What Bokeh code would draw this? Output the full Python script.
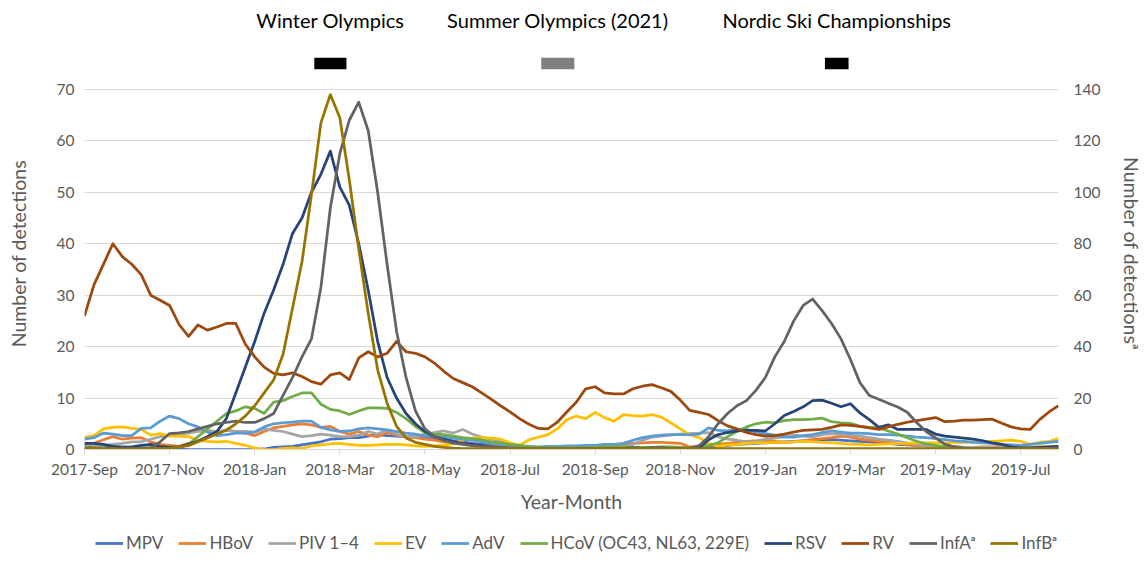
from bokeh.plotting import figure
from bokeh.models import Range1d, LinearAxis, FixedTicker, Legend, LegendItem, ColumnDataSource
from bokeh.layouts import column
from bokeh.core.properties import value
from bokeh.embed import file_html
from bokeh.resources import INLINE

# ---------------- data ----------------
tick_idx = [0, 9, 18, 27, 36, 45, 54, 63, 72, 81, 90, 99]
tick_labels = ["2017-Sep", "2017-Nov", "2018-Jan", "2018-Mar", "2018-May", "2018-Jul",
               "2018-Sep", "2018-Nov", "2019-Jan", "2019-Mar", "2019-May", "2019-Jul"]

event_names = ["Winter Olympics", "Summer Olympics (2021)", "Nordic Ski Championships"]
event_start = [24.3, 48.3, 78.3]   # week index
event_end = [27.7, 51.8, 80.8]
event_colors = ["#000000", "#808080", "#000000"]

MPV = [0.8, 0.7, 0.6, 0.5, 0.5, 0.4, 0.3, 0.3, 0.2, 0.1,
       0.1, 0.0, 0.0, 0.0, 0.0, 0.0, 0.0, 0.0, 0.0, 0.1,
       0.4, 0.5, 0.6, 0.9, 1.2, 1.5, 2.0, 2.1, 2.3, 2.3,
       2.6, 2.9, 2.7, 2.6, 2.5, 2.4, 2.3, 2.1, 2.0, 1.7,
       1.5, 1.2, 1.0, 0.8, 0.6, 0.5, 0.4, 0.3, 0.3, 0.2,
       0.2, 0.2, 0.2, 0.2, 0.2, 0.2, 0.2, 0.2, 0.2, 0.2,
       0.2, 0.2, 0.2, 0.3, 0.3, 0.4, 0.5, 0.6, 0.8, 1.0,
       1.1, 1.2, 1.3, 1.4, 1.5, 1.6, 1.7, 1.8, 1.8, 1.9,
       1.8, 1.7, 1.6, 1.5, 1.3, 1.2, 1.0, 0.9, 0.8, 0.7,
       0.6, 0.5, 0.5, 0.4, 0.4, 0.3, 0.3, 0.3, 0.2, 0.2,
       0.2, 0.2, 0.2, 0.2]
HBoV = [1.0, 1.2, 1.9, 2.5, 2.0, 2.2, 2.3, 1.5, 1.0, 0.8,
        0.6, 1.2, 1.6, 2.5, 3.2, 3.8, 3.5, 3.2, 2.7, 3.5,
        4.2, 4.5, 4.8, 5.0, 4.8, 4.3, 4.5, 3.5, 3.0, 3.5,
        2.8, 2.5, 3.3, 2.8, 2.5, 2.3, 2.0, 1.8, 1.5, 1.3,
        1.2, 1.0, 0.8, 0.6, 0.5, 0.4, 0.3, 0.3, 0.3, 0.3,
        0.4, 0.5, 0.5, 0.6, 0.7, 0.8, 0.9, 1.0, 1.2, 1.3,
        1.4, 1.4, 1.3, 1.2, 0.5, 0.6, 0.8, 1.0, 1.2, 1.4,
        1.6, 1.7, 1.8, 1.6, 1.4, 1.5, 1.7, 1.9, 2.1, 2.3,
        2.6, 2.4, 2.0, 1.8, 1.6, 1.4, 1.2, 1.0, 0.8, 0.7,
        0.6, 0.5, 0.5, 0.4, 0.4, 0.5, 0.5, 0.6, 0.5, 0.4,
        0.4, 0.5, 0.5, 0.6]
PIV = [1.0, 0.8, 0.8, 1.0, 1.2, 1.5, 1.5, 2.0, 2.5, 2.8,
       3.0, 3.2, 3.5, 3.7, 3.5, 3.7, 3.5, 3.5, 3.4, 4.0,
       3.7, 3.5, 3.0, 2.5, 2.7, 3.0, 2.8, 2.5, 2.5, 2.8,
       3.5, 3.0, 3.8, 3.0, 2.6, 2.5, 3.0, 3.3, 3.6, 3.2,
       3.9, 3.0, 2.4, 2.0, 1.6, 1.0, 0.5, 0.4, 0.3, 0.3,
       0.3, 0.3, 0.3, 0.4, 0.4, 0.4, 0.5, 0.5, 1.0, 1.8,
       2.4, 2.6, 2.8, 3.0, 3.1, 3.2, 3.3, 2.5, 2.0, 1.8,
       1.5, 1.6, 2.0, 2.2, 2.5, 2.8, 2.6, 2.4, 2.9, 3.1,
       3.0, 2.8, 2.6, 2.3, 2.0, 1.8, 1.6, 1.3, 1.0, 0.8,
       0.6, 0.5, 0.4, 0.4, 0.4, 0.4, 0.4, 0.4, 0.4, 0.4,
       0.4, 0.4, 0.4, 0.4]
EV = [2.3, 2.7, 4.0, 4.3, 4.4, 4.1, 3.9, 2.8, 3.1, 2.6,
      2.6, 2.5, 1.8, 1.6, 1.5, 1.6, 1.2, 0.8, 0.3, 0.0,
      0.0, 0.2, 0.3, 0.2, 0.7, 0.9, 1.1, 1.2, 1.0, 0.8,
      0.8, 0.9, 1.0, 1.0, 0.9, 0.7, 0.6, 0.7, 0.8, 1.2,
      1.8, 2.2, 2.3, 2.2, 2.0, 1.3, 0.8, 1.9, 2.4, 2.9,
      4.0, 5.8, 6.5, 6.0, 7.2, 6.2, 5.5, 6.8, 6.6, 6.5,
      6.8, 6.3, 5.2, 4.0, 2.9, 2.3, 1.2, 0.6, 0.9, 1.0,
      1.2, 1.3, 1.3, 1.4, 1.4, 1.5, 1.6, 1.5, 1.4, 1.3,
      1.2, 1.0, 1.0, 0.9, 1.0, 1.1, 1.2, 1.2, 1.3, 1.3,
      1.3, 1.3, 1.4, 1.4, 1.5, 1.5, 1.6, 1.7, 1.8, 1.6,
      1.0, 1.4, 1.6, 2.1]
AdV = [2.0, 2.3, 3.2, 3.0, 2.7, 2.7, 4.1, 4.2, 5.5, 6.5,
       6.0, 5.0, 4.4, 3.4, 2.7, 2.9, 3.2, 3.2, 3.4, 4.4,
       5.0, 5.2, 5.3, 5.5, 5.5, 4.3, 3.8, 3.5, 3.6, 4.0,
       4.2, 4.0, 3.8, 3.5, 3.2, 3.0, 2.6, 2.6, 2.4, 2.2,
       2.0, 1.8, 1.5, 1.2, 1.0, 0.8, 0.7, 0.6, 0.5, 0.6,
       0.6, 0.7, 0.7, 0.8, 0.8, 1.0, 1.0, 1.2, 1.8, 2.3,
       2.6, 2.8, 2.9, 2.9, 2.9, 3.0, 4.2, 3.7, 3.6, 3.9,
       3.9, 3.4, 3.1, 2.8, 2.4, 2.4, 2.7, 2.9, 3.3, 3.6,
       3.4, 3.2, 3.2, 3.1, 2.9, 2.9, 2.8, 2.6, 2.4, 2.3,
       2.1, 1.9, 1.7, 1.6, 1.4, 1.3, 1.2, 1.0, 0.9, 0.8,
       1.0, 1.2, 1.4, 1.6]
HCoV = [0.3, 0.3, 0.2, 0.2, 0.2, 0.2, 0.2, 0.3, 0.3, 0.5,
        0.5, 1.0, 2.5, 4.0, 5.5, 7.0, 7.5, 8.3, 8.0, 7.0,
        9.2, 9.5, 10.3, 11.0, 11.0, 8.8, 7.8, 7.5, 6.8, 7.5,
        8.1, 8.1, 8.0, 7.2, 6.0, 4.5, 3.3, 3.0, 2.9, 2.6,
        2.3, 2.1, 1.9, 1.5, 1.3, 1.0, 0.8, 0.5, 0.4, 0.3,
        0.3, 0.3, 0.3, 0.3, 0.4, 0.5, 0.5, 0.5, 0.4, 0.4,
        0.4, 0.5, 0.5, 0.4, 0.3, 0.5, 0.8, 1.3, 2.5, 3.5,
        4.4, 5.0, 5.3, 5.2, 5.6, 5.8, 5.8, 5.9, 6.1, 5.4,
        5.2, 5.1, 4.5, 4.3, 4.2, 3.6, 3.0, 2.3, 1.6, 1.1,
        0.8, 0.5, 0.3, 0.2, 0.2, 0.2, 0.2, 0.2, 0.2, 0.2,
        0.2, 0.2, 0.2, 0.2]
RSV = [1.2, 1.2, 1.0, 0.6, 0.4, 0.5, 0.8, 1.0, 0.6, 0.4,
       0.5, 1.0, 1.6, 2.5, 3.5, 6.0, 11.0, 16.0, 21.0, 26.5,
       31.0, 36.0, 42.0, 45.0, 50.0, 53.5, 58.0, 51.0, 47.5, 40.0,
       31.0, 21.0, 14.0, 10.0, 7.0, 5.0, 3.5, 2.5, 2.0, 1.5,
       1.2, 1.0, 0.8, 0.5, 0.3, 0.2, 0.2, 0.1, 0.1, 0.1,
       0.1, 0.1, 0.2, 0.2, 0.1, 0.1, 0.2, 0.2, 0.3, 0.2,
       0.3, 0.3, 0.2, 0.2, 0.1, 0.3, 1.9, 2.9, 3.3, 3.6,
       3.7, 3.7, 3.6, 5.0, 6.6, 7.4, 8.3, 9.5, 9.6, 9.0,
       8.3, 8.9, 7.1, 5.8, 4.3, 4.8, 3.9, 3.9, 3.9, 3.9,
       3.0, 2.6, 2.4, 2.2, 2.0, 1.7, 1.3, 1.0, 0.5, 0.3,
       0.3, 0.4, 0.5, 0.6]
RV = [26.0, 32.0, 36.0, 40.0, 37.5, 36.0, 34.0, 30.0, 29.0, 28.0,
      24.3, 22.0, 24.2, 23.2, 23.8, 24.5, 24.5, 20.5, 18.0, 16.0,
      14.8, 14.5, 14.9, 14.2, 13.2, 12.7, 14.5, 14.9, 13.6, 17.8,
      19.0, 18.0, 18.7, 21.0, 19.0, 18.7, 18.0, 16.8, 15.2, 13.8,
      13.0, 12.2, 11.0, 9.8, 8.5, 7.3, 6.0, 4.9, 4.1, 4.0,
      5.3, 7.3, 9.2, 11.8, 12.2, 11.0, 10.8, 10.8, 11.8, 12.3,
      12.6, 12.0, 11.3, 9.6, 7.6, 7.2, 6.8, 5.6, 4.6, 4.0,
      3.3, 2.9, 2.6, 2.7, 3.0, 3.4, 3.7, 3.8, 3.9, 4.3,
      4.8, 4.7, 4.5, 4.2, 3.9, 4.4, 4.9, 5.3, 5.6, 5.9,
      6.2, 5.4, 5.5, 5.7, 5.7, 5.8, 5.9, 5.1, 4.4, 4.0,
      3.9, 5.8, 7.3, 8.5]
InfA = [0.2, 0.2, 0.2, 0.2, 0.2, 0.3, 0.3, 0.5, 3.0, 6.2,
        6.5, 7.0, 8.0, 9.0, 10.0, 10.5, 11.0, 10.5, 10.5, 12.0,
        14.0, 21.0, 28.0, 36.0, 43.0, 63.0, 94.0, 115.0, 128.0, 135.0,
        124.0, 100.0, 72.0, 46.0, 28.0, 15.0, 8.0, 5.0, 3.5, 2.5,
        2.0, 1.5, 1.2, 1.0, 0.8, 0.6, 0.5, 0.4, 0.4, 0.3,
        0.3, 0.3, 0.3, 0.3, 0.3, 0.3, 0.3, 0.3, 0.3, 0.3,
        0.3, 0.3, 0.3, 0.3, 0.5, 1.5, 5.0, 10.0, 14.0, 17.0,
        19.0, 23.0, 28.0, 36.0, 42.0, 50.0, 56.0, 58.5, 54.0, 49.0,
        43.0, 35.0, 26.0, 21.0, 19.5, 18.0, 16.5, 14.5, 10.5, 7.0,
        4.5, 2.0, 1.0, 0.5, 0.3, 0.3, 0.3, 0.3, 0.3, 0.3,
        0.3, 0.3, 0.3, 0.3]
InfB = [0.5, 0.5, 0.3, 0.3, 0.2, 0.2, 0.2, 0.3, 0.3, 0.5,
        1.0, 1.5, 3.0, 4.5, 6.0, 7.5, 10.0, 13.0, 17.0, 22.0,
        27.0, 37.0, 55.0, 73.0, 99.0, 127.0, 138.0, 129.0, 105.0, 78.0,
        53.0, 31.0, 18.0, 9.0, 4.5, 2.8, 2.0, 1.2, 0.8, 0.5,
        0.3, 0.3, 0.3, 0.3, 0.3, 0.3, 0.3, 0.3, 0.3, 0.3,
        0.3, 0.3, 0.3, 0.3, 0.3, 0.3, 0.3, 0.3, 0.3, 0.3,
        0.3, 0.3, 0.3, 0.3, 0.3, 0.3, 0.3, 0.3, 0.3, 0.3,
        0.3, 0.3, 0.3, 0.3, 0.3, 0.3, 0.3, 0.3, 0.3, 0.3,
        0.3, 0.3, 0.3, 0.3, 0.3, 0.3, 0.3, 0.3, 0.3, 0.3,
        0.3, 0.3, 0.3, 0.3, 0.3, 0.3, 0.3, 0.3, 0.3, 0.3,
        0.3, 0.3, 0.3, 0.3]

left_series = [("MPV", MPV, "#4472C4"), ("HBoV", HBoV, "#ED7D31"), ("PIV 1–4", PIV, "#A5A5A5"),
               ("EV", EV, "#FFC000"), ("AdV", AdV, "#5B9BD5"),
               ("HCoV (OC43, NL63, 229E)", HCoV, "#70AD47"), ("RSV", RSV, "#264478"),
               ("RV", RV, "#9E480E")]
right_series = [("InfAᵃ", InfA, "#636363"), ("InfBᵃ", InfB, "#997300")]

# ---------------- layout ----------------
FONT = "Lato"
TXT = "#595959"
W = 1146
LB, RB = 84, 88
LW = 2.75
n = len(RV)
xr = Range1d(0, n - 1)
YMAX = 76.2

# --- event labels strip ---
top = figure(width=W, height=57, x_range=xr, y_range=Range1d(0, 1),
             output_backend="svg", toolbar_location=None,
             min_border_left=LB, min_border_right=RB, min_border_top=0, min_border_bottom=0)
top.axis.visible = False
top.grid.visible = False
top.outline_line_color = None
ev_src = ColumnDataSource(dict(x=[(s + e) / 2 for s, e in zip(event_start, event_end)],
                               y=[0.65] * len(event_names), t=event_names))
top.text(x="x", y="y", text="t", source=ev_src, text_align="center", text_baseline="middle",
         text_font=value(FONT), text_font_size="20px", text_color="#000000")

# --- main chart ---
p = figure(width=W, height=458, x_range=xr, y_range=Range1d(0, YMAX),
           output_backend="svg", toolbar_location=None,
           min_border_left=LB, min_border_right=RB, min_border_top=0, min_border_bottom=65)
p.outline_line_color = None
p.extra_y_ranges = {"right": Range1d(0, YMAX * 2)}

ly = p.yaxis[0]
ly.ticker = FixedTicker(ticks=list(range(0, 71, 10)))
ly.axis_label = "Number of detections"
ly.axis_line_color = None
ly.major_tick_line_color = None
ly.minor_tick_line_color = None
ly.major_tick_out = 0
ly.major_tick_in = 0
ly.major_label_standoff = 10
ly.axis_label_standoff = 24
p.ygrid.ticker = FixedTicker(ticks=list(range(0, 71, 10)))
p.ygrid.grid_line_color = "#d9d9d9"
p.xgrid.visible = False

xa = p.xaxis[0]
xa.ticker = FixedTicker(ticks=tick_idx)
xa.major_label_overrides = {t: l for t, l in zip(tick_idx, tick_labels)}
xa.axis_label = "Year-Month"
xa.axis_line_color = "#d9d9d9"
xa.major_tick_line_color = "#d9d9d9"
xa.major_tick_in = 0
xa.major_tick_out = 5
xa.minor_tick_line_color = None
xa.major_label_standoff = 5
xa.axis_label_standoff = 9

ra = LinearAxis(y_range_name="right", ticker=FixedTicker(ticks=list(range(0, 141, 20))),
                axis_label="Number of detectionsᵃ")
ra.axis_line_color = None
ra.major_tick_line_color = None
ra.minor_tick_line_color = None
ra.major_tick_out = 0
ra.major_tick_in = 0
ra.major_label_standoff = 15
ra.axis_label_standoff = 17
p.add_layout(ra, "right")

for ax in [ly, xa, ra]:
    ax.major_label_text_font = FONT
    ax.major_label_text_font_size = "15.5px"
    ax.major_label_text_color = TXT
    ax.axis_label_text_font = FONT
    ax.axis_label_text_font_size = "19.5px"
    ax.axis_label_text_color = TXT
    ax.axis_label_text_font_style = "normal"

p.quad(left=event_start, right=event_end, bottom=73.9, top=YMAX,
       fill_color=event_colors, line_color=None)

x = list(range(n))
for name, ys, col in left_series:
    p.line(x, ys, line_color=col, line_width=LW, line_join="round")
for name, ys, col in right_series:
    p.line(x, ys, line_color=col, line_width=LW, line_join="round", y_range_name="right")

# --- legend strip (series drawn outside the visible range; only legend shows) ---
lg = figure(width=W, height=40, x_range=Range1d(-3, -2), y_range=Range1d(0, 1),
            output_backend="svg", toolbar_location=None,
            min_border_left=0, min_border_right=0, min_border_top=0, min_border_bottom=0)
lg.axis.visible = False
lg.grid.visible = False
lg.outline_line_color = None
items = []
for name, ys, col in left_series + right_series:
    r = lg.line(x, ys, line_color=col, line_width=LW)
    items.append(LegendItem(label=name, renderers=[r]))
legend = Legend(items=items, orientation="horizontal", location=(11, 2),
                label_text_font=FONT, label_text_font_size="17px", label_text_color=TXT,
                glyph_width=28, glyph_height=20, label_standoff=3, spacing=15,
                padding=10, margin=0, border_line_color=None, background_fill_alpha=0)
lg.add_layout(legend)

layout = column(top, p, lg)
open("out.html", "w").write(file_html(layout, INLINE))
